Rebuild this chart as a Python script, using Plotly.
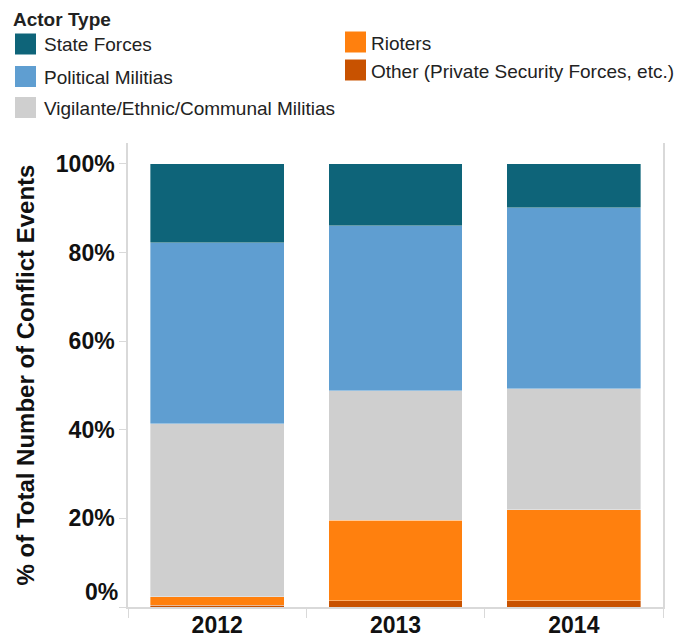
import plotly.graph_objects as go

# ---- data (percent of total conflict events) ----
years = ["2012", "2013", "2014"]
series_names = [
    "Other (Private Security Forces, etc.)",
    "Rioters",
    "Vigilante/Ethnic/Communal Militias",
    "Political Militias",
    "State Forces",
]
other = [0.4, 1.4, 1.4]
rioters = [1.9, 18.2, 20.5]
vigilante = [39.0, 29.2, 27.3]
political = [40.9, 37.2, 40.9]
state = [17.8, 14.0, 9.9]
series_values = [other, rioters, vigilante, political, state]
colors = ["#c85200", "#ff800e", "#cfcfcf", "#5f9ed1", "#0e6479"]
y_tick_vals = [0, 20, 40, 60, 80, 100]
y_tick_text = ["0%", "20%", "40%", "60%", "80%", "100%"]

FONT = "Liberation Sans, Arial, sans-serif"

fig = go.Figure()
for name, vals, col in zip(series_names, series_values, colors):
    fig.add_trace(go.Bar(
        x=years, y=vals, name=name,
        marker=dict(color=col, line=dict(color="rgba(255,255,255,0.6)", width=0.6)),
        showlegend=False,
    ))

W, H = 687, 639
L, R, T, B = 128, 24, 143, 32
pw, ph = W - L - R, H - T - B


def px_x(x):
    return (x - L) / pw


def px_y(y):
    return (H - B - y) / ph


shapes = []
annotations = []
# legend title
annotations.append(dict(
    text="<b>Actor Type</b>", xref="paper", yref="paper",
    x=px_x(11), y=px_y(20), xanchor="left", yanchor="middle",
    showarrow=False, font=dict(family=FONT, size=19, color="#222"),
))
# legend layout: column 1 (State, Political, Vigilante), column 2 (Rioters, Other)
legend_order = [4, 3, 2, 1, 0]
legend_pos = [(15, 44, 27), (15, 76.5, 27), (15, 107.5, 27), (345, 42, 24), (345, 70, 24)]
for idx, (sx, cy, tx) in zip(legend_order, legend_pos):
    shapes.append(dict(
        type="rect", xref="paper", yref="paper",
        x0=px_x(sx), x1=px_x(sx + 21), y0=px_y(cy - 10.5), y1=px_y(cy + 10.5),
        fillcolor=colors[idx], line=dict(width=0),
    ))
    annotations.append(dict(
        text=series_names[idx], xref="paper", yref="paper",
        x=px_x(sx + tx), y=px_y(cy + 1), xanchor="left", yanchor="middle",
        showarrow=False, font=dict(family=FONT, size=19, color="#222"),
    ))

# bottom tick label is lifted inside the pane, as in the reference
tick_text_shown = [t if v != 0 else "" for v, t in zip(y_tick_vals, y_tick_text)]
annotations.append(dict(
    text="<b>" + y_tick_text[0] + "</b>", xref="paper", yref="y",
    x=0, y=y_tick_vals[0], xanchor="right", yanchor="middle",
    xshift=-8, yshift=15, showarrow=False,
    font=dict(family=FONT, size=23, color="#111"),
))

fig.update_layout(
    barmode="stack",
    bargap=0.25,
    width=W, height=H,
    margin=dict(l=L, r=R, t=T, b=B, autoexpand=False),
    paper_bgcolor="white", plot_bgcolor="white",
    font=dict(family=FONT, color="#111"),
    shapes=shapes,
    annotations=annotations,
    xaxis=dict(
        type="category",
        showgrid=False, zeroline=False,
        showline=True, linecolor="#d9d9d9", linewidth=1.5,
        ticks="outside", tickson="boundaries", ticklen=9, tickcolor="#d9d9d9",
        ticklabelstandoff=-3,
        tickfont=dict(family=FONT, size=23, color="#111", weight="bold"),
    ),
    yaxis=dict(
        range=[0, 104.7],
        tickvals=y_tick_vals, ticktext=tick_text_shown,
        showgrid=False, zeroline=False,
        showline=True, linecolor="#d9d9d9", linewidth=1.5, mirror=True,
        ticks="outside", ticklen=7, tickcolor="#d9d9d9",
        tickfont=dict(family=FONT, size=23, color="#111", weight="bold"),
        title=dict(text="<b>% of Total Number of Conflict Events</b>",
                   font=dict(family=FONT, size=24, color="#111"), standoff=14),
    ),
)

fig.write_html("out.html", config={"displayModeBar": False},
               post_script="document.body.style.margin='0';")
